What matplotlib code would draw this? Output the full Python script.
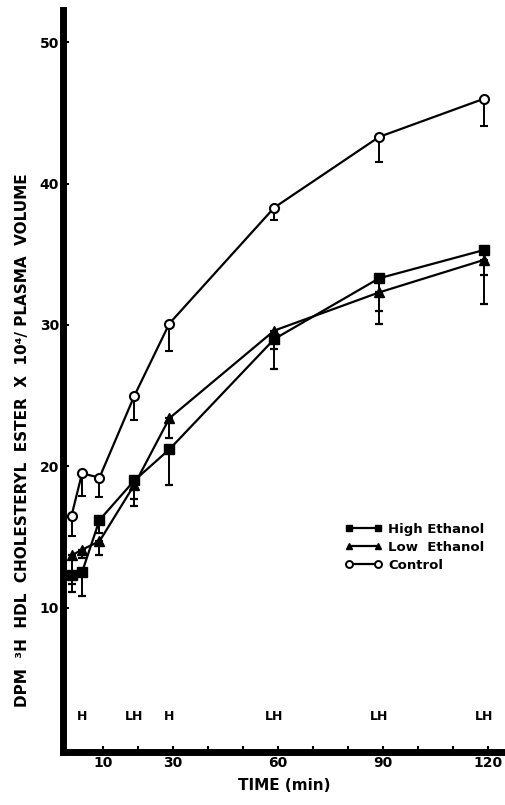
#!/usr/bin/env python3

"""
HDL cholesteryl ester turnover vs time, three groups
"""

import numpy as np
import matplotlib
matplotlib.use("Agg")
import matplotlib.pyplot as plt
from matplotlib.lines import Line2D

# sampling times (min) as drawn
time = [1, 4, 9, 19, 29, 59, 89, 119]

control = [16.5, 19.5, 19.2, 25.0, 30.1, 38.3, 43.3, 46.0]
control_low = [15.1, 17.9, 17.8, 23.3, 28.15, 37.4, 41.5, 44.1]

high_eth = [12.3, 12.5, 16.2, 19.0, 21.2, 29.0, 33.3, 35.3]
high_low = [11.1, 10.8, 15.3, 17.7, 18.7, 26.9, 30.1, 31.5]

low_eth = [13.7, 14.1, 14.7, 18.7, 23.4, 29.6, 32.3, 34.6]
low_low = [11.7, 13.5, 13.7, 17.2, 22.0, 28.3, 31.0, 33.5]

sig_times = [4, 19, 29, 59, 89, 119]
sig_labels = ["H", "LH", "H", "LH", "LH", "LH"]

xtick_vals = [10, 20, 30, 40, 50, 60, 70, 80, 90, 100, 110, 120]
xtick_text = ["10", "", "30", "", "", "60", "", "", "90", "", "", "120"]
ytick_vals = [10, 20, 30, 40, 50]


def down_err(vals, lows):
    """ one-sided (downward) error bar array """
    vals = np.array(vals)
    return [vals - np.array(lows), np.zeros_like(vals)]


fig = plt.figure(figsize=(5.05, 8.05), dpi=100)
ax = fig.add_axes([0.125, 0.066, 0.875, 0.922])

common = dict(color="black", lw=1.6, elinewidth=1.4, capsize=3,
              capthick=1.6, ms=6.5)

ax.errorbar(time, high_eth, yerr=down_err(high_eth, high_low), fmt="-s",
            mfc="black", **common)
ax.errorbar(time, low_eth, yerr=down_err(low_eth, low_low), fmt="-^",
            mfc="black", **common)
ax.errorbar(time, control, yerr=down_err(control, control_low), fmt="-o",
            mfc="white", mew=1.5, zorder=3, **common)

for t, s in zip(sig_times, sig_labels):
    ax.text(t, 2.3, s, ha="center", va="center", fontsize=9,
            fontweight="bold")

ax.set_xlim(-1.4, 125)
ax.set_ylim(-0.2, 52.3)

ax.set_xticks(xtick_vals)
ax.set_xticklabels(xtick_text, fontsize=10, fontweight="bold")
ax.set_yticks(ytick_vals)
ax.set_yticklabels([str(v) for v in ytick_vals], fontsize=10,
                   fontweight="bold")
ax.tick_params(direction="in", length=4, width=1.5, pad=3)

for side in ("top", "right"):
    ax.spines[side].set_visible(False)
for side in ("left", "bottom"):
    ax.spines[side].set_linewidth(5)

ax.set_xlabel("TIME (min)", fontsize=11, fontweight="bold", labelpad=6)
ax.set_ylabel("DPM  \u00b3H  HDL  CHOLESTERYL  ESTER  X  10\u2074/ PLASMA  VOLUME",
              fontsize=11, fontweight="bold")
ax.yaxis.set_label_coords(-0.075, 0.42)

handles = [
    Line2D([], [], color="black", lw=1.6, marker="s", ms=5, mfc="black"),
    Line2D([], [], color="black", lw=1.6, marker="^", ms=5, mfc="black"),
    Line2D([], [], color="black", lw=1.6, marker="o", ms=5, mfc="white",
           mew=1.4),
]
labels = ["High Ethanol", "Low  Ethanol", "Control"]
ax.legend(handles, labels, loc="upper left", bbox_to_anchor=(0.61, 0.325),
          frameon=False, numpoints=2, handlelength=2.8, handletextpad=0.5,
          labelspacing=0.4, prop={"weight": "bold", "size": 9.5})

fig.savefig("out.png", dpi=100)
